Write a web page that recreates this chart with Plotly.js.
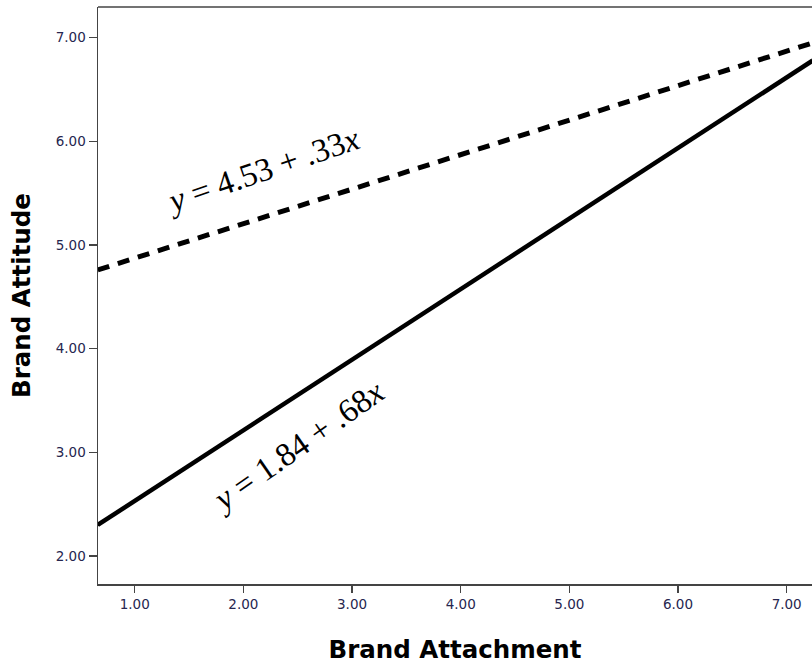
<!DOCTYPE html>
<html>
<head>
<meta charset="utf-8">
<script src="https://cdn.plot.ly/plotly-3.0.1.min.js"></script>
<style>html,body{margin:0;padding:0;background:#fff;overflow:hidden;}</style>
</head>
<body>
<div id="chart" style="width:812px;height:666px;"></div>
<script>
// Data
var lineX = [0.66, 7.24];
var dashedY = [4.76, 6.95];      // y = 4.53 + .33x
var solidY = [2.30, 6.78];       // y = 1.84 + .68x
var dashedLabel = "<i>y</i> = 4.53 + .33<i>x</i>";
var solidLabel = "<i>y</i> = 1.84 + .68<i>x</i>";
var xTickVals = [1, 2, 3, 4, 5, 6, 7];
var xTickText = ["1.00", "2.00", "3.00", "4.00", "5.00", "6.00", "7.00"];
var yTickVals = [2, 3, 4, 5, 6, 7];
var yTickText = ["2.00", "3.00", "4.00", "5.00", "6.00", "7.00"];
var xTitle = "Brand Attachment";
var yTitle = "Brand Attitude";

var traces = [
  {x: lineX, y: dashedY, mode: "lines", type: "scatter", hoverinfo: "skip",
   line: {color: "#000", width: 5, dash: "12px,9px"}},
  {x: lineX, y: solidY, mode: "lines", type: "scatter", hoverinfo: "skip",
   line: {color: "#000", width: 4.5}}
];

var tickFont = {family: "DejaVu Sans", size: 13.5, color: "#26264f"};
var titleFont = {family: "DejaVu Sans", size: 24.5, color: "#000", weight: "bold"};
var eqFont = {family: "Liberation Serif, Times New Roman, serif", size: 33, color: "#000"};

var layout = {
  width: 812, height: 666,
  margin: {l: 98, r: 0, t: 7, b: 82},
  paper_bgcolor: "#fff", plot_bgcolor: "#fff",
  showlegend: false,
  xaxis: {
    range: [0.662, 7.233], tickvals: xTickVals, ticktext: xTickText,
    ticks: "outside", ticklen: 7, tickwidth: 1.5, tickcolor: "#444",
    showline: true, linecolor: "#444", linewidth: 1.5,
    showgrid: false, zeroline: false, tickfont: tickFont,
    title: {text: xTitle, font: titleFont, standoff: 30}
  },
  yaxis: {
    range: [1.73, 7.296], tickvals: yTickVals, ticktext: yTickText,
    ticks: "outside", ticklen: 8, tickwidth: 1.5, tickcolor: "#444",
    showline: true, linecolor: "#444", linewidth: 1.5,
    showgrid: false, zeroline: false, tickfont: tickFont,
    title: {text: yTitle, font: titleFont, standoff: 18}
  },
  shapes: [
    {type: "line", xref: "paper", yref: "paper", x0: 0, x1: 1, y0: 1, y1: 1,
     line: {color: "#444", width: 1.5}}
  ],
  annotations: [
    {x: 2.18, y: 5.72, xref: "x", yref: "y", text: dashedLabel, showarrow: false,
     textangle: -19, font: eqFont, xanchor: "center", yanchor: "middle"},
    {x: 2.50, y: 3.06, xref: "x", yref: "y", text: solidLabel, showarrow: false,
     textangle: -35, font: eqFont, xanchor: "center", yanchor: "middle"}
  ]
};

Plotly.newPlot("chart", traces, layout, {displayModeBar: false, staticPlot: true});
</script>
</body>
</html>
